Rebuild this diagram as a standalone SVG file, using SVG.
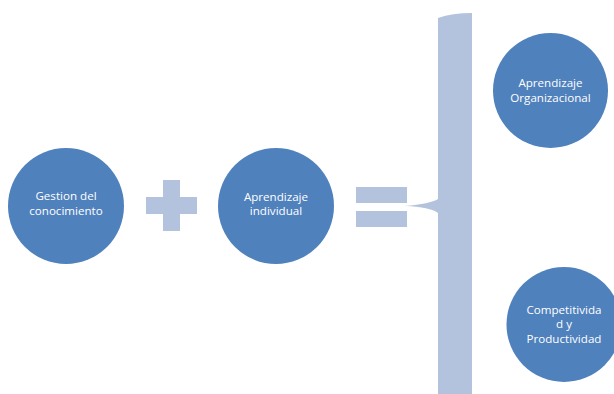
<svg xmlns="http://www.w3.org/2000/svg" width="614" height="394" viewBox="0 0 614 394">
<style>
.node circle{fill:#4F81BD;}
.op{fill:#B3C3DD;}
text{font-family:"Open Sans","Liberation Sans",sans-serif;font-size:11.6px;fill:#FFFFFF;text-anchor:middle;}
</style>
<rect width="614" height="394" fill="#FFFFFF"/>
<g id="connectors">
<g id="plus" class="op">
<rect x="146" y="197" width="51" height="17"/>
<rect x="163" y="180" width="17" height="51"/>
</g>
<g id="equals" class="op">
<rect x="356" y="187" width="51" height="16"/>
<rect x="356" y="211" width="51" height="16"/>
</g>
<path id="brace" class="op" d="M438,18 Q452,13 472,13 L472,394 L438,394 L438,213 Q430,207 405,206 Q430,204 438,199 Z"/>
</g>
<g id="node1" class="node">
<circle cx="66" cy="206" r="58"/>
<text x="66" y="200">Gestion del</text>
<text x="66" y="215">conocimiento</text>
</g>
<g id="node2" class="node">
<circle cx="276" cy="206" r="58"/>
<text x="276" y="201">Aprendizaje</text>
<text x="276" y="215">individual</text>
</g>
<g id="node3" class="node">
<circle cx="550.5" cy="90.5" r="57.5"/>
<text x="550.5" y="87">Aprendizaje</text>
<text x="550.5" y="102">Organizacional</text>
</g>
<g id="node4" class="node">
<circle cx="564" cy="324.5" r="57.5"/>
<text x="564" y="314">Competitivida</text>
<text x="564" y="328">d y</text>
<text x="564" y="343">Productividad</text>
</g>
</svg>
